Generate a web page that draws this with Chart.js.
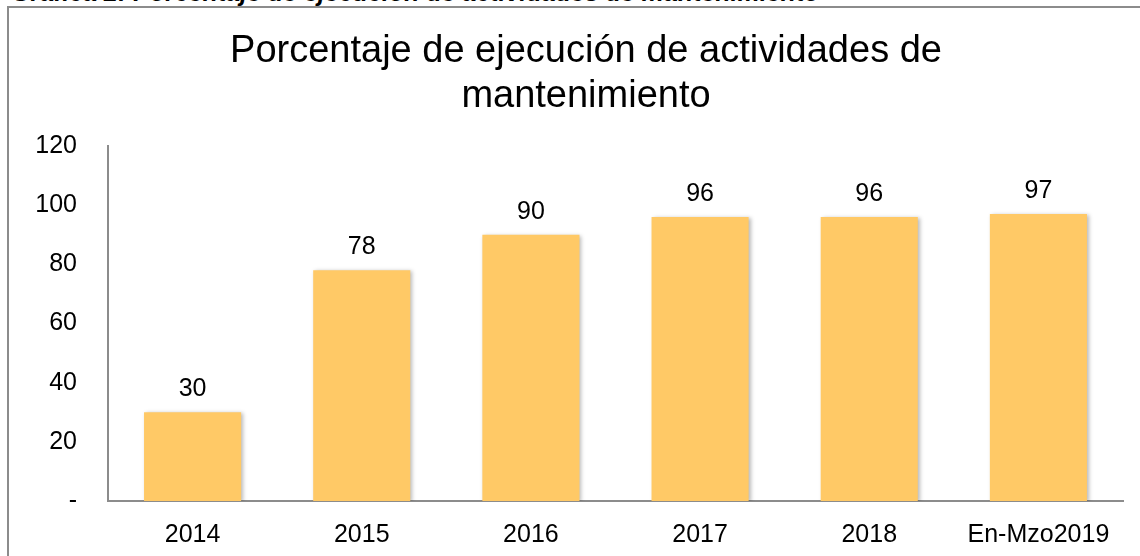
<!DOCTYPE html>
<html>
<head>
<meta charset="utf-8">
<script src="https://cdn.jsdelivr.net/npm/chart.js@4/dist/chart.umd.min.js"></script>
<style>
  html, body { margin: 0; padding: 0; background: #fff; width: 1140px; height: 556px; overflow: hidden; }
  #frame { position: absolute; left: 7px; top: 6px; width: 1300px; height: 700px;
           border-left: 2px solid #8c8c8c; border-top: 2px solid #8c8c8c; }
  #caption { position: absolute; left: 11px; top: -20px; font: bold italic 25px "Liberation Sans", Arial, sans-serif;
             line-height: 25px; white-space: nowrap; color: #000; }
  #c { position: absolute; left: 0; top: 0; }
</style>
</head>
<body>
<div id="caption">Gráfica 2: Porcentaje de ejecución de actividades de mantenimiento</div>
<div id="frame"></div>
<canvas id="c" width="1140" height="556"></canvas>
<script>
const categories = ['2014', '2015', '2016', '2017', '2018', 'En-Mzo2019'];
const values = [30, 78, 90, 96, 96, 97];
const yTicks = [0, 20, 40, 60, 80, 100, 120];
const titleLines = ['Porcentaje de ejecución de actividades de', 'mantenimiento'];

const FONT = '"Liberation Sans", Arial, sans-serif';

const titlePlugin = {
  id: 'excelTitle',
  afterDraw(chart) {
    const ctx = chart.ctx;
    ctx.save();
    ctx.font = '38px ' + FONT;
    ctx.fillStyle = '#000';
    ctx.textAlign = 'center';
    ctx.textBaseline = 'alphabetic';
    const cx = 586;
    ctx.fillText(titleLines[0], cx, 62);
    ctx.fillText(titleLines[1], cx, 107);
    ctx.restore();
  }
};

const labelPlugin = {
  id: 'barLabels',
  afterDatasetsDraw(chart) {
    const ctx = chart.ctx;
    const meta = chart.getDatasetMeta(0);
    ctx.save();
    ctx.font = '25px ' + FONT;
    ctx.fillStyle = '#000';
    ctx.textAlign = 'center';
    ctx.textBaseline = 'alphabetic';
    meta.data.forEach((bar, i) => {
      ctx.fillText(String(values[i]), bar.x, bar.y - 16);
    });
    ctx.restore();
  }
};

const shadowPlugin = {
  id: 'barShadow',
  beforeDatasetDraw(chart) {
    const ctx = chart.ctx;
    ctx.save();
    ctx.shadowColor = 'rgba(0,0,0,0.28)';
    ctx.shadowBlur = 4;
    ctx.shadowOffsetX = 2;
    ctx.shadowOffsetY = 1;
  },
  afterDatasetDraw(chart) {
    chart.ctx.restore();
  }
};

new Chart(document.getElementById('c'), {
  type: 'bar',
  data: {
    labels: categories,
    datasets: [{
      data: values,
      backgroundColor: '#FFC966',
      borderWidth: 0,
      categoryPercentage: 1,
      barPercentage: 0.574
    }]
  },
  options: {
    responsive: false,
    animation: false,
    devicePixelRatio: 1,
    layout: { padding: { left: 0, right: 17, top: 146, bottom: 0 } },
    plugins: {
      legend: { display: false },
      tooltip: { enabled: false },
      title: { display: false }
    },
    scales: {
      x: {
        grid: { display: false, drawTicks: false },
        border: { display: true, color: '#8c8c8c', width: 2 },
        ticks: { color: '#000', font: { family: FONT, size: 25 }, padding: 19, maxRotation: 0, autoSkip: false },
        afterFit(scale) { scale.height = 55; }
      },
      y: {
        min: 0,
        max: 120,
        grid: { display: false, drawTicks: false },
        border: { display: true, color: '#8c8c8c', width: 2 },
        afterBuildTicks(scale) { scale.ticks = yTicks.map(v => ({ value: v })); },
        ticks: {
          color: '#000',
          font: { family: FONT, size: 25 },
          padding: 31,
          callback: (v) => v === 0 ? '-' : String(v)
        },
        afterFit(scale) { scale.width = 108; }
      }
    }
  },
  plugins: [shadowPlugin, labelPlugin, titlePlugin]
});
</script>
</body>
</html>
